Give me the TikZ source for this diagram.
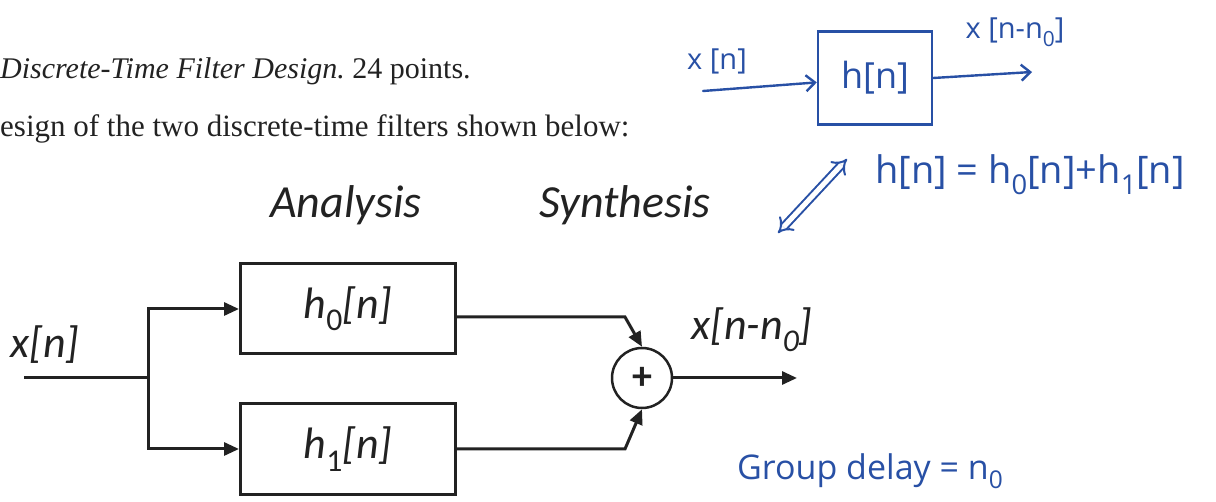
\documentclass[tikz,border=0pt]{standalone}
\usepackage{fontspec}
\usepackage{graphicx}
\setmainfont{Liberation Serif}
\newfontfamily\calibri{Carlito}
\newfontfamily\handfont{Open Sans}
\usetikzlibrary{arrows.meta,positioning,calc}
\definecolor{ink}{RGB}{34,34,34}
\definecolor{handink}{RGB}{40,80,165}
\newcommand\lowix[1]{\raisebox{-0.28em}{\scalebox{0.72}{#1}}}

\begin{document}
\begin{tikzpicture}[x=1pt,y=-1pt,
  every node/.style={font=\calibri\itshape\fontsize{44}{50}\selectfont,text=ink},
  block/.style={draw=ink,line width=3pt,minimum width=215pt,minimum height=90pt,inner sep=0pt},
  sumnode/.style={draw=ink,circle,line width=2.5pt,minimum size=60pt,inner sep=0pt},
  wire/.style={draw=ink,line width=3pt},
  arr/.style={wire,-{Triangle[length=15pt,width=13pt]}},
  handtxt/.style={font=\handfont\fontsize{29}{32}\selectfont,text=handink},
  handline/.style={draw=handink,line width=2.4pt,line cap=round},
  handarr/.style={handline,-{Straight Barb[length=9pt,width=16pt]}}]

\useasboundingbox (0,0) rectangle (1216,502);

% problem statement
\node[font=\rmfamily\itshape\fontsize{30}{36}\selectfont,anchor=base west,inner sep=0pt] (title) at (0,79) {Discrete-Time Filter Design.\upshape\ 24 points.};
\node[font=\rmfamily\fontsize{31}{36}\selectfont,anchor=base west,inner sep=0pt] (intro) at (0,137) {esign of the two discrete-time filters shown below:};

\node[font=\calibri\itshape\fontsize{46}{50}\selectfont] (ana) at (346,205) {Analysis};
\node[font=\calibri\itshape\fontsize{46}{50}\selectfont] (syn) at (625,205) {Synthesis};

% filter bank
\node[block] (h0) at (348,309) {h\lowix{\upshape 0}[n]};
\node[block,below=47pt of h0] (h1) {h\lowix{\upshape 1}[n]};
\node[sumnode,font=\calibri\bfseries\fontsize{40}{40}\selectfont] (sum) at (642,378) {+};

\coordinate (in) at (24,378);
\coordinate (split) at (148,378);
\coordinate (out) at (797,378);

\draw[wire] (in) -- (split);
\draw[arr] (split) |- (h0);
\draw[arr] (split) |- (h1);
\draw[arr] ([yshift=-8pt]h0.east) -- ++(168,0) -- (sum.north);
\draw[arr] (h1.east) -- ++(168,0) -- (sum.south);
\draw[arr] (sum) -- (out);

\node (xin) at (45,345) {x[n]};
\node (xout) at (752,330) {x[n-n\lowix{0}]};

% handwritten notes
\node[handline,handtxt,font=\handfont\fontsize{36}{40}\selectfont,minimum width=114pt,minimum height=93pt] (hbox) at (875,78) {h[n]};
\coordinate (hin) at (703,91);
\coordinate (hout) at (1032,72);
\draw[handarr] (hin) -- (hbox);
\draw[handarr] (hbox.east) -- (hout);
\node[handtxt] (hx) at (717,61) {x [n]};
\node[handtxt] (hxd) at (1015,32) {x [n-n\lowix{0}]};
\node[handtxt,font=\handfont\fontsize{38}{42}\selectfont] (heq) at (1030,175) {h[n] = h\lowix{0}[n]+h\lowix{1}[n]};
\coordinate (da) at (778,233);
\coordinate (db) at (847,159);
\draw[draw=handink,line width=2pt,double=white,double distance=5pt,{Implies}-{Implies}] (da) -- (db);
\node[handtxt,font=\handfont\fontsize{34}{38}\selectfont] (gd) at (870,471) {Group delay = n\lowix{0}};
\end{tikzpicture}
\end{document}
